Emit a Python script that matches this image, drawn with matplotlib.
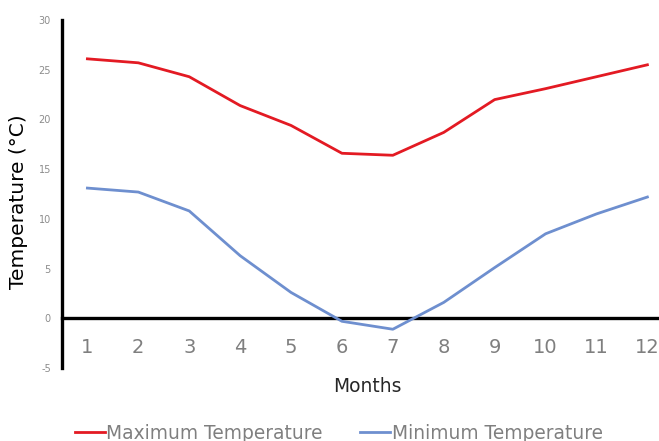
import matplotlib

matplotlib.use("Agg", force=True)

import matplotlib.pyplot as plt

months = list(range(1, 13))
max_temp = [26.1, 25.7, 24.3, 21.4, 19.4, 16.6, 16.4, 18.7, 22.0, 23.1, 24.3, 25.5]
min_temp = [13.1, 12.7, 10.8, 6.3, 2.6, -0.3, -1.1, 1.6, 5.1, 8.5, 10.5, 12.2]
y_ticks = [-5, 0, 5, 10, 15, 20, 25, 30]

RED = "#E31A23"
BLUE = "#6E8FCF"
GREY = "#7F7F7F"

plt.rcParams["font.family"] = ["DejaVu Sans"]
plt.rcParams["axes.unicode_minus"] = False

fig = plt.figure(figsize=(6.59, 4.41), dpi=100)
ax = fig.add_axes([0.094, 0.1655, 0.927, 0.789])

ax.plot(months, max_temp, color=RED, linewidth=2.0, label="Maximum Temperature",
        solid_joinstyle="round", zorder=3)
ax.plot(months, min_temp, color=BLUE, linewidth=2.0, label="Minimum Temperature",
        solid_joinstyle="round", zorder=3)

ax.set_xlim(0.5, 12.5)
ax.set_ylim(-5, 30)
ax.set_yticks(y_ticks)
ax.set_xticks(months)

for side in ("top", "right"):
    ax.spines[side].set_visible(False)
ax.spines["left"].set_linewidth(2.4)
ax.spines["left"].set_color("black")
ax.spines["bottom"].set_position(("data", 0))
ax.spines["bottom"].set_linewidth(2.4)
ax.spines["bottom"].set_color("black")

ax.tick_params(axis="y", length=0, labelsize=7, labelcolor="#8C8C8C", pad=8)
ax.tick_params(axis="x", length=0, labelsize=14, labelcolor=GREY, pad=14)

ax.set_ylabel("Temperature (°C)", fontsize=14.5, color="black")
ax.yaxis.set_label_coords(-0.056, 0.477)
ax.set_xlabel("Months", fontsize=13.4, color="#262626")
ax.xaxis.set_label_coords(0.5, -0.026)

# legend sits at the very bottom edge, as in the reference
leg = fig.legend(loc="center left", bbox_to_anchor=(0.088, 0.018), ncol=2,
                 frameon=False, fontsize=13.4, handlelength=1.6, handletextpad=0.1,
                 columnspacing=2.0, labelcolor=GREY)

fig.savefig("out.png", dpi=100)
